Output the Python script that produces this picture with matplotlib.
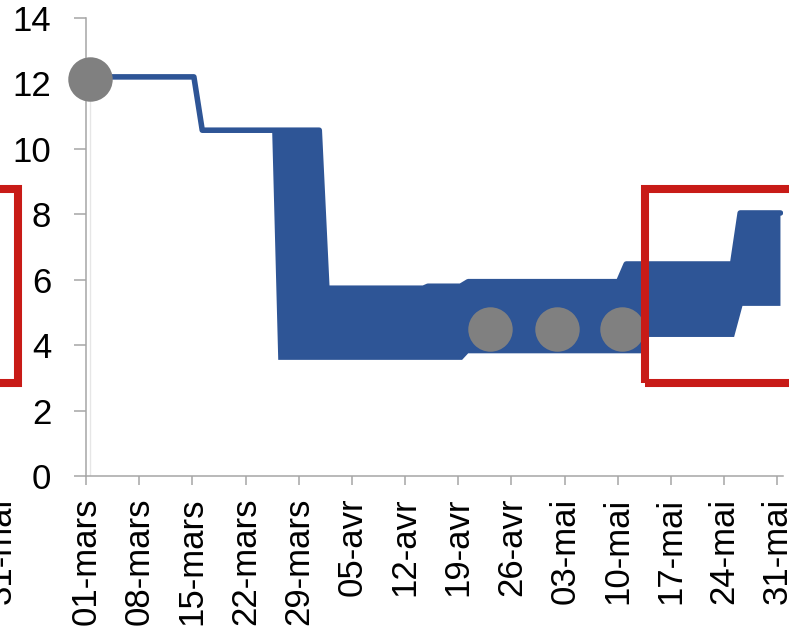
import numpy as np
import matplotlib
matplotlib.use("Agg")
import matplotlib.pyplot as plt
from matplotlib.patches import Rectangle

W, H, DPI = 789, 638, 100
FONT = "Liberation Sans"
plt.rcParams["font.family"] = [FONT, "DejaVu Sans"]

# x tick labels (weekly), days since 01-mars
tick_labels = ["01-mars", "08-mars", "15-mars", "22-mars", "29-mars", "05-avr", "12-avr",
               "19-avr", "26-avr", "03-mai", "10-mai", "17-mai", "24-mai", "31-mai"]
tick_days = [0, 7, 14, 21, 28, 35, 42, 49, 56, 63, 70, 77, 84, 91]

# upper bound of the range (days since 01-mars, value)
high_days = [0.5, 14.2, 15.3, 30.7, 31.7, 44.4, 45.0, 49.3, 50.3, 70.1, 71.1, 85.1, 86.1, 91.4]
high_vals = [12.2, 12.2, 10.57, 10.57, 5.74, 5.74, 5.80, 5.80, 5.94, 5.94, 6.48, 6.48, 8.04, 8.04]

# lower bound of the range
low_days = [0.5, 14.2, 15.3, 24.5, 25.3, 49.5, 50.3, 73.1, 73.9, 85.3, 86.4, 91.4]
low_vals = [12.2, 12.2, 10.57, 10.57, 3.55, 3.55, 3.75, 3.75, 4.25, 4.25, 5.2, 5.2]

# grey markers
marker_days = [0.5, 53.2, 62.0, 70.5]
marker_vals = [12.15, 4.5, 4.5, 4.5]

blue = "#2E5596"
grey = "#808080"
red = "#C81B17"
axis_grey = "#A6A6A6"

fig = plt.figure(figsize=(W / DPI, H / DPI), dpi=DPI)
ax = fig.add_axes([86 / W, 1 - 476 / H, (783 - 86) / W, (476 - 18) / H])

# faint drop line from first point
ax.plot([marker_days[0], marker_days[0]], [0, marker_vals[0]], color="#E6E6E6", lw=1, zorder=1)

poly_x = np.concatenate([high_days, low_days[::-1]])
poly_y = np.concatenate([high_vals, low_vals[::-1]])
ax.fill(poly_x, poly_y, color=blue, lw=0, zorder=2)
ax.plot(high_days, high_vals, color=blue, lw=4.0, solid_capstyle="round",
        solid_joinstyle="round", zorder=3)

ax.plot(marker_days, marker_vals, "o", color=grey, ms=32, mec="none",
        zorder=5, clip_on=False)

ax.set_xlim(0, (783 - 86) / 7.598)
ax.set_ylim(0, 14)
ax.set_yticks(range(0, 15, 2))
ax.set_xticks(tick_days)
ax.set_xticklabels(tick_labels, rotation=90, fontsize=25)
ax.tick_params(axis="y", labelsize=25, length=9, width=1.1, color=axis_grey, pad=16)
ax.tick_params(axis="x", length=6.5, width=1.1, color=axis_grey, pad=9)
for s in ["top", "right"]:
    ax.spines[s].set_visible(False)
for s in ["left", "bottom"]:
    ax.spines[s].set_color(axis_grey)
    ax.spines[s].set_linewidth(1.1)
    ax.spines[s].set_zorder(4)

# red highlight frames (figure pixel coordinates)
def frame(x0, x1, y0, y1):
    r = Rectangle((x0 / W, 1 - y1 / H), (x1 - x0) / W, (y1 - y0) / H,
                  transform=fig.transFigure, fill=False, ec=red, lw=5.8, zorder=10)
    fig.add_artist(r)

frame(-300, 18, 189, 383)
frame(645, 1100, 189, 383)

# cropped label of neighbouring chart
fig.text(1 / W, 1 - 498 / H, "31-mai", rotation=90, ha="center", va="top", fontsize=25)

fig.savefig("out.png", dpi=DPI)
